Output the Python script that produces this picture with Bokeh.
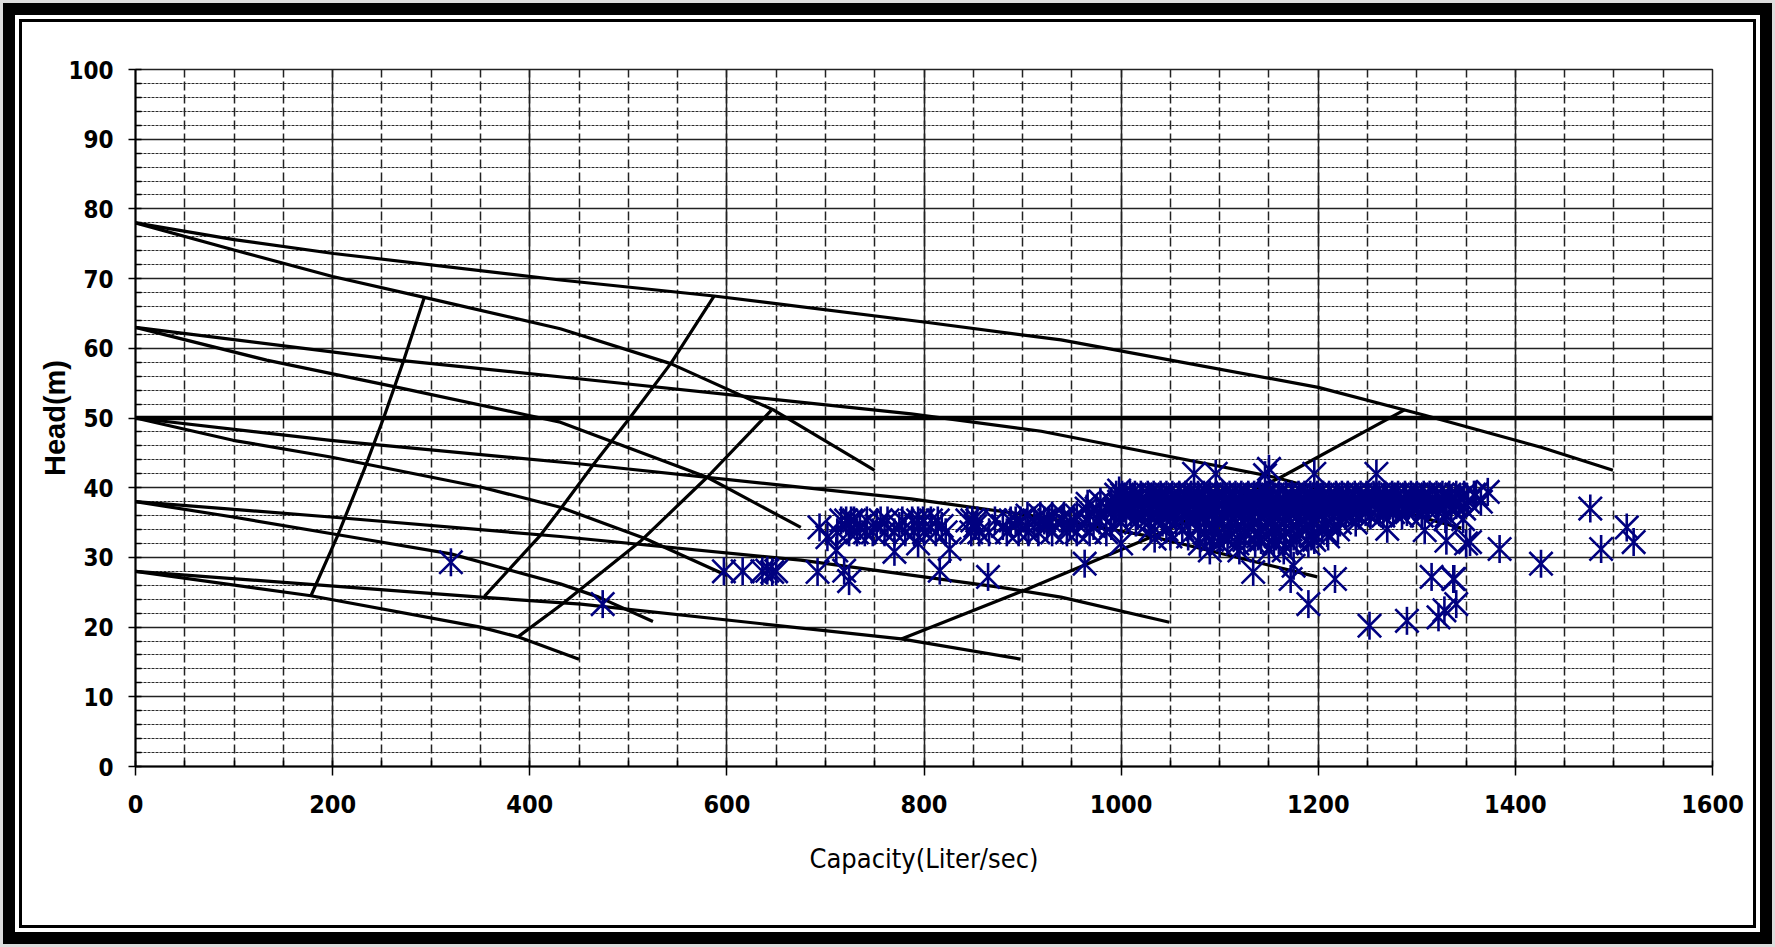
import math
from bokeh.plotting import figure
from bokeh.models import Range1d, SingleIntervalTicker, Span, ColumnDataSource
from bokeh.embed import file_html
from bokeh.resources import INLINE

# ---------------- pump curves (Capacity L/s, Head m) ----------------
curve78_long_q = [0, 100, 201, 431, 587, 804, 939, 1200, 1308, 1426, 1499]
curve78_long_h = [78, 75.6, 73.6, 69.8, 67.5, 63.7, 61.2, 54.4, 50.4, 45.8, 42.5]
curve78_short_q = [0, 100, 200, 293, 431, 543, 648, 750]
curve78_short_h = [78, 74.1, 70.3, 67.3, 62.8, 57.8, 51.1, 42.5]

curve63_long_q = [0, 266, 452, 787, 919, 1156, 1345]
curve63_long_h = [63, 58.3, 55.6, 50.6, 48.1, 41.5, 34.2]
curve63_short_q = [0, 133, 266, 398, 431, 580, 675]
curve63_short_h = [63, 58.3, 54.4, 50.4, 49.4, 41.5, 34.3]

curve50_long_q = [0, 198, 452, 787, 919, 1034, 1199]
curve50_long_h = [50, 46.8, 43.4, 38.4, 35.8, 32.9, 27.2]
curve50_short_q = [0, 99, 198, 350, 431, 517, 600]
curve50_short_h = [50, 46.8, 44.4, 40.1, 37.2, 32.7, 27.4]

curve38_long_q = [0, 198, 431, 675, 878, 939, 1049]
curve38_long_h = [38, 35.8, 33.0, 29.6, 25.7, 24.3, 20.7]
curve38_short_q = [0, 99, 216, 320, 431, 470, 525]
curve38_short_h = [38, 35.8, 33.0, 30.5, 26.2, 24.3, 20.8]

curve28_long_q = [0, 350, 452, 777, 898]
curve28_long_h = [28, 24.3, 23.3, 18.3, 15.4]
curve28_short_q = [0, 178, 350, 388, 450]
curve28_short_h = [28, 24.5, 20.0, 18.6, 15.4]

# ---------------- system / operating lines ----------------
sys1_q = [178, 205, 232, 252, 272, 293]
sys1_h = [24.5, 33.1, 42.6, 50.1, 58.2, 67.3]
sys2_q = [354, 411, 431, 465, 502, 543, 587]
sys2_h = [24.4, 33.2, 36.9, 43.4, 50.1, 57.8, 67.5]
sys3_q = [388, 431, 513, 580, 645]
sys3_h = [18.6, 23.1, 32.4, 41.5, 51.1]
sys4_q = [777, 902, 1030, 1162, 1288]
sys4_h = [18.3, 25.3, 32.9, 41.5, 51.2]

limit_head = 50

# ---------------- measured operating points ----------------
iso_q = [320, 474, 597, 616, 636, 641, 646, 650, 692, 719, 724, 694, 702, 711,
         770, 794, 826, 816, 865, 963, 1000, 1034, 1134, 1172, 1175, 1190, 1217,
         1252, 1270, 1290, 1308, 1315, 1322, 1328, 1337, 1340, 1330, 1350, 1384,
         1426, 1476, 1513, 1520, 1487, 1354, 1338, 1372, 1360, 1329, 1347,
         1074, 1096, 1146, 1150, 1196, 1259, 966, 979, 998]
iso_h = [29.3, 23.3, 28.0, 28.0, 28.0, 28.1, 27.9, 28.0, 27.9, 28.1, 26.6, 34.3, 32.9, 31.0,
         30.8, 32.0, 31.2, 28.1, 27.2, 29.1, 32.0, 32.7, 27.9, 26.9, 28.8, 23.3, 26.9,
         20.2, 34.1, 20.9, 33.9, 27.2, 21.4, 22.4, 26.9, 23.3, 32.4, 32.0, 31.2,
         29.1, 37.0, 34.3, 32.2, 31.2, 32.2, 26.9, 39.4, 39.0, 35.5, 35.5,
         42.0, 42.0, 41.8, 42.7, 42.0, 42.0, 37.7, 38.0, 39.6]

row353_q = [716, 721, 726, 729, 742, 756, 763, 778, 788, 794, 799, 807, 814, 844, 849,
            854, 872, 888, 893, 898, 912, 922, 927, 940, 952, 965, 978]
row345_q = [735, 752, 775, 795, 818, 852, 880, 903, 925, 948, 972, 990]
row336_q = [712, 724, 732, 740, 748, 760, 770, 781, 790, 800, 812, 822, 848, 856, 866,
            884, 896, 906, 916, 930, 945, 955, 968, 985]
row39_q = [995, 1001, 1009, 1014, 1020, 1027, 1033, 1040, 1046, 1052, 1059, 1065, 1071,
           1078, 1084, 1090, 1097, 1103, 1110, 1116, 1122, 1129, 1135, 1141, 1148, 1154,
           1160, 1167, 1173, 1180, 1186, 1192, 1199, 1205, 1211, 1218, 1224, 1230, 1237,
           1243, 1249, 1256, 1262, 1268, 1275, 1281, 1288, 1294, 1300, 1307, 1313, 1320,
           1326, 1333, 1340, 1348, 1358]
row385_q = [1003, 1012, 1021, 1031, 1040, 1050, 1059, 1069, 1078, 1088, 1097, 1107, 1116,
            1126, 1135, 1145, 1154, 1164, 1173, 1183, 1192, 1202, 1211, 1221, 1230, 1240,
            1249, 1259, 1268, 1278, 1287, 1297, 1306, 1316, 1325, 1335, 1344]
row38_q = [990, 998, 1005, 1013, 1021, 1028, 1036, 1044, 1051, 1059, 1067, 1074, 1082,
           1090, 1097, 1105, 1113, 1120, 1128, 1136, 1143, 1151, 1159, 1166, 1174, 1182,
           1189, 1197, 1205, 1212, 1220, 1228, 1235, 1243, 1251, 1258, 1266, 1274, 1281,
           1289, 1297, 1304, 1312, 1320, 1327, 1335, 1343, 1352, 1365]
row375_q = [998, 1008, 1017, 1027, 1036, 1046, 1055, 1064, 1074, 1083, 1093, 1102, 1112,
            1121, 1131, 1140, 1150, 1159, 1168, 1178, 1187, 1197, 1206, 1216, 1225, 1235,
            1244, 1254, 1263, 1273, 1282, 1292, 1301, 1311, 1320, 1330, 1340]
row37_q = [965, 975, 985, 994, 1003, 1012, 1022, 1031, 1040, 1049, 1058, 1068, 1077, 1086,
           1095, 1104, 1114, 1123, 1132, 1141, 1150, 1160, 1169, 1178, 1187, 1196, 1206,
           1215, 1224, 1233, 1243, 1252, 1261, 1270, 1280, 1290, 1300, 1310, 1322, 1335, 1348]
row365_q = [1010, 1024, 1038, 1052, 1066, 1080, 1094, 1108, 1122, 1136, 1150, 1164, 1178,
            1192, 1206, 1220, 1234, 1248, 1262, 1276, 1290]
row36_q = [905, 918, 930, 942, 955, 968, 980, 993, 1005, 1017, 1030, 1042, 1055, 1067,
           1080, 1092, 1104, 1117, 1129, 1142, 1154, 1166, 1179, 1191, 1204, 1216, 1228,
           1241, 1253, 1266, 1285, 1305, 1330]
row35_q = [1000, 1015, 1028, 1042, 1056, 1070, 1084, 1097, 1111, 1125, 1139, 1152, 1166,
           1180, 1194, 1208, 1222, 1238]
row34_q = [1030, 1046, 1062, 1078, 1094, 1109, 1125, 1141, 1156, 1172, 1188, 1204, 1220]
row335_q = [1085, 1098, 1112, 1126, 1140, 1153, 1167, 1181, 1195, 1209]
row33_q = [1050, 1068, 1086, 1104, 1121, 1139, 1157, 1175, 1193, 1210]
row325_q = [1092, 1108, 1125, 1142, 1160, 1178, 1196]
row32_q = [1080, 1100, 1118, 1136, 1155, 1172, 1190]
row31_q = [1090, 1120, 1150, 1165]

x_ticks_interval = 200
y_ticks_interval = 10

# ---------------- assemble measured points ----------------
meas_q = list(iso_q)
meas_h = list(iso_h)
for qs, h in [(row353_q, 35.3), (row345_q, 34.5), (row336_q, 33.6), (row39_q, 39.0),
              (row385_q, 38.5), (row38_q, 38.0), (row375_q, 37.5), (row37_q, 37.0),
              (row365_q, 36.5), (row36_q, 36.0), (row35_q, 35.0), (row34_q, 34.0),
              (row335_q, 33.5), (row33_q, 33.0), (row325_q, 32.5), (row32_q, 32.0),
              (row31_q, 31.0)]:
    meas_q += qs
    meas_h += [h] * len(qs)

src = ColumnDataSource(dict(q=meas_q, h=meas_h))

W, H = 1775, 947
p = figure(width=W, height=H, output_backend="svg", toolbar_location=None,
           x_range=Range1d(0, 1600), y_range=Range1d(0, 100),
           min_border_left=135, min_border_right=63, min_border_top=69, min_border_bottom=181)
p.border_fill_color = None
p.background_fill_color = "white"
p.outline_line_color = "#222222"
p.outline_line_width = 1.5
p.styles = {
    "background-color": "white",
    "box-shadow": "inset 0 0 0 3px #dcdcdc, inset 0 0 0 15px #000000, "
                  "inset 0 0 0 19px #ffffff, inset 0 0 0 22px #000000",
}

p.xaxis.ticker = SingleIntervalTicker(interval=x_ticks_interval, num_minor_ticks=4)
p.yaxis.ticker = SingleIntervalTicker(interval=y_ticks_interval, num_minor_ticks=5)

tick_font = "DejaVu Sans Condensed"
for ax in (p.xaxis[0], p.yaxis[0]):
    ax.axis_line_color = "black"
    ax.axis_line_width = 2
    ax.major_tick_line_color = "black"
    ax.major_tick_line_width = 1.5
    ax.minor_tick_line_color = "black"
    ax.minor_tick_line_width = 1.5
    ax.major_tick_in = 0
    ax.minor_tick_out = 0
    ax.minor_tick_in = 6
    ax.major_label_text_font = tick_font
    ax.major_label_text_font_style = "bold"
    ax.major_label_text_color = "black"

p.xaxis.major_label_text_font_size = "25px"
p.yaxis.major_label_text_font_size = "24px"
p.yaxis.major_tick_out = 7
p.xaxis.major_tick_out = 9
p.yaxis.major_label_standoff = 15
p.xaxis.major_label_standoff = 19

p.xaxis.axis_label = "Capacity(Liter/sec)"
p.xaxis.axis_label_text_font = tick_font
p.xaxis.axis_label_text_font_size = "27px"
p.xaxis.axis_label_text_font_style = "normal"
p.xaxis.axis_label_text_color = "black"
p.xaxis.axis_label_standoff = 27

p.yaxis.axis_label = "Head(m)"
p.yaxis.axis_label_text_font = "Liberation Sans"
p.yaxis.axis_label_text_font_size = "29px"
p.yaxis.axis_label_text_font_style = "bold"
p.yaxis.axis_label_text_color = "black"
p.yaxis.axis_label_standoff = -6

p.xgrid.grid_line_color = "#222222"
p.xgrid.grid_line_width = 1.5
p.xgrid.minor_grid_line_color = "#222222"
p.xgrid.minor_grid_line_width = 1.5
p.xgrid.minor_grid_line_dash = "9 4"
p.ygrid.grid_line_color = "#222222"
p.ygrid.grid_line_width = 1.5
p.ygrid.minor_grid_line_color = "#2a2a2a"
p.ygrid.minor_grid_line_width = 1.2
p.ygrid.minor_grid_line_dash = "3 1"

curves = [
    (curve78_long_q, curve78_long_h), (curve78_short_q, curve78_short_h),
    (curve63_long_q, curve63_long_h), (curve63_short_q, curve63_short_h),
    (curve50_long_q, curve50_long_h), (curve50_short_q, curve50_short_h),
    (curve38_long_q, curve38_long_h), (curve38_short_q, curve38_short_h),
    (curve28_long_q, curve28_long_h), (curve28_short_q, curve28_short_h),
    (sys1_q, sys1_h), (sys2_q, sys2_h), (sys3_q, sys3_h), (sys4_q, sys4_h),
]
for qs, hs in curves:
    p.line(qs, hs, line_color="black", line_width=3.2, line_join="round")

p.add_layout(Span(location=limit_head, dimension="width", line_color="black", line_width=4.5))

p.scatter("q", "h", source=src, marker="x", size=33, line_color="#000080", line_width=2.6)
p.scatter("q", "h", source=src, marker="dash", angle=math.pi / 2, size=28,
          line_color="#000080", line_width=2.6)

open("out.html", "w").write(file_html(p, INLINE))
